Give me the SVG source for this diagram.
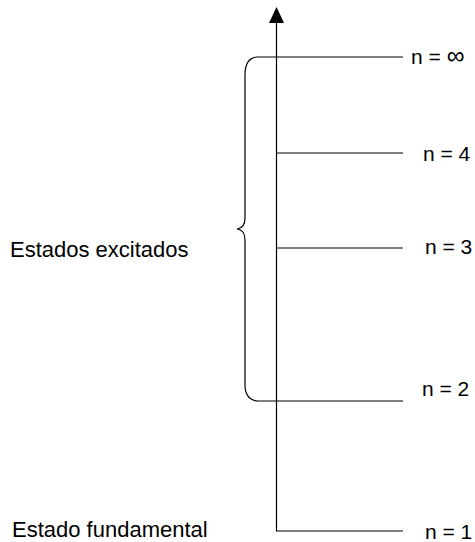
<svg xmlns="http://www.w3.org/2000/svg" width="475" height="542" viewBox="0 0 475 542">
<style>
.ln{stroke:#000;stroke-width:1.2;fill:none}
.t{font-family:"Liberation Sans",Arial,sans-serif;font-size:21px;fill:#000}
.l{font-family:"Liberation Sans",Arial,sans-serif;font-size:22px;fill:#000}
</style>
<rect width="475" height="542" fill="#fff"/>
<g id="connectors">
<line class="ln" x1="276.5" y1="22" x2="276.5" y2="531"/>
<polygon points="276.5,7 269,23 284,23" fill="#000"/>
<path id="brace" class="ln" d="M257,57 Q245,58 245,75 L245,218 Q245,228 237,229 Q245,230 245,240 L245,385 Q245,400 258,401"/>
</g>
<g id="level-inf"><line class="ln" x1="257" y1="57" x2="403" y2="57"/><text class="t" x="411" y="64">n = <tspan font-size="25">∞</tspan></text></g>
<g id="level-4"><line class="ln" x1="276" y1="153" x2="403" y2="153"/><text class="t" x="423" y="161">n = 4</text></g>
<g id="level-3"><line class="ln" x1="276" y1="248" x2="403" y2="248"/><text class="t" x="425" y="254">n = 3</text></g>
<g id="level-2"><line class="ln" x1="258" y1="401" x2="403" y2="401"/><text class="t" x="422" y="396">n = 2</text></g>
<g id="level-1"><line class="ln" x1="276" y1="531" x2="403" y2="531"/><text class="t" x="425" y="539">n = 1</text></g>
<g id="label-excited"><text class="l" x="10" y="257">Estados excitados</text></g>
<g id="label-ground"><text class="l" x="12" y="537">Estado fundamental</text></g>
</svg>
